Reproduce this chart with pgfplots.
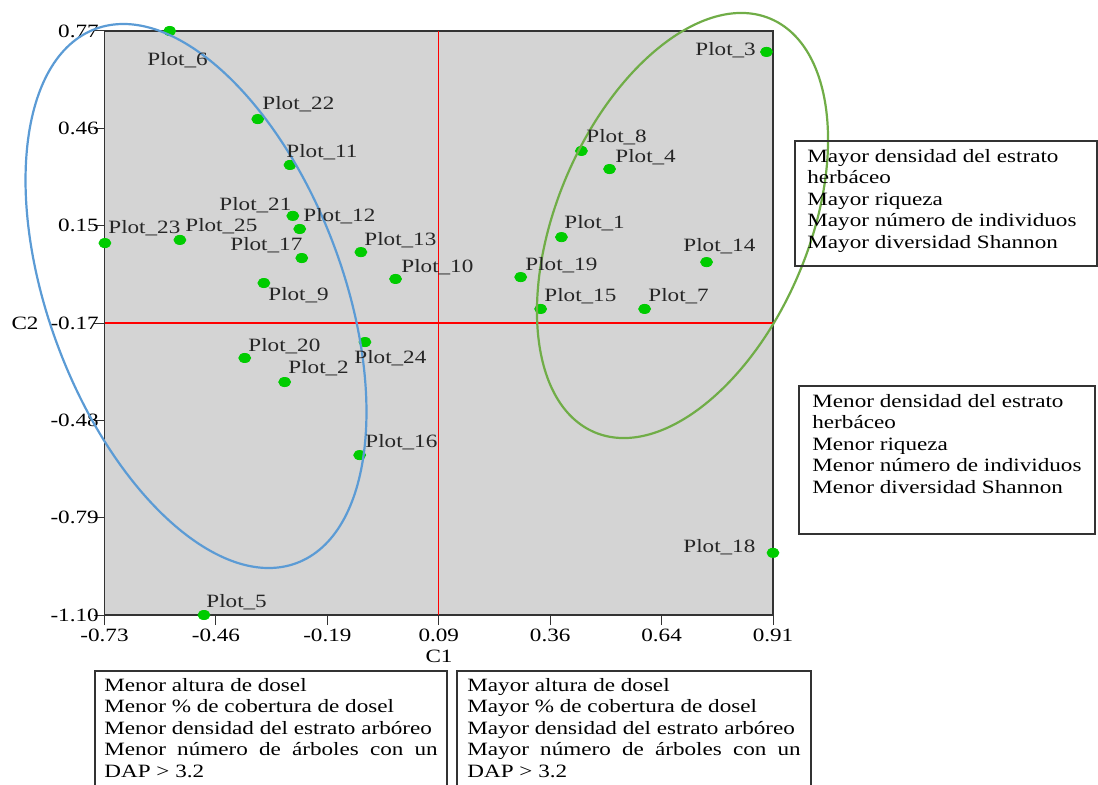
\documentclass[border=0pt]{standalone}
\usepackage{pgfplots}
\pgfplotsset{compat=1.18}
\usepackage{pgfplotstable}
\usepackage{fontspec}
\setmainfont{Liberation Serif}
\usepackage{graphicx}
\newcommand{\sx}[1]{\scalebox{1.23}[1]{#1}}
\definecolor{plotgray}{RGB}{212,212,212}
\definecolor{ptgreen}{RGB}{0,204,0}
\definecolor{ellblue}{RGB}{91,155,213}
\definecolor{ellgreen}{RGB}{112,173,71}

\pgfplotstableread{
x y
0.391 0.110
-0.288 -0.354
0.894 0.703
0.509 0.328
-0.486 -1.100
-0.570 0.770
0.595 -0.120
0.440 0.386
-0.339 -0.037
-0.016 -0.024
-0.275 0.341
-0.251 0.136
-0.101 0.062
0.747 0.030
0.340 -0.120
-0.104 -0.588
-0.246 0.043
0.910 -0.901
0.291 -0.018
-0.386 -0.277
-0.268 0.178
-0.354 0.488
-0.729 0.091
-0.091 -0.226
-0.545 0.101
}\pointdata

\begin{document}
\begin{tikzpicture}[font=\fontsize{9.4pt}{10.75pt}\selectfont]
\useasboundingbox (0,0) rectangle (549pt,392pt);
\begin{axis}[
  scale only axis, width=334.25pt, height=292pt,
  at={(52.25pt,84.5pt)}, anchor=south west,
  xmin=-0.73, xmax=0.91, ymin=-1.10, ymax=0.77,
  axis background/.style={fill=plotgray},
  axis line style={black!80, line width=0.6pt},
  xtick={-0.73,-0.456667,-0.183333,0.09,0.363333,0.636667,0.91},
  xticklabels={\sx{-0.73},\sx{-0.46},\sx{-0.19},\sx{0.09},\sx{0.36},\sx{0.64},\sx{0.91}},
  ytick={-1.10,-0.788333,-0.476667,-0.165,0.146667,0.458333,0.77},
  yticklabels={\sx{-1.10},\sx{-0.79},\sx{-0.48},\sx{-0.17},\sx{0.15},\sx{0.46},\sx{0.77}},
  minor tick num=4,
  tick align=outside,
  tick pos=left,
  major tick length=5pt, minor tick length=3pt,
  tick style={black!80, line width=0.5pt},
  xticklabel style={anchor=north, inner sep=0pt, yshift=-2pt},
  yticklabel style={anchor=east, inner sep=0pt, xshift=2.3pt},
  clip=false,
]
\addplot[red, line width=0.6pt] coordinates {(0.09,-1.10) (0.09,0.77)};
\addplot[red, line width=0.6pt] coordinates {(-0.73,-0.165) (0.91,-0.165)};
\addplot[only marks, mark=*, mark size=2.3pt,
  mark options={fill=ptgreen, draw=ptgreen, xscale=1.3}] table[x=x,y=y]{\pointdata};
\end{axis}
\begin{scope}[shift={(0pt,392pt)}, x=0.5pt, y=-0.5pt]
  % ellipses
  \draw[ellblue, line width=1.1pt, rotate around={20.7:(196,296)}] (196,296) ellipse [x radius=146.9, y radius=285.4];
  \draw[ellgreen, line width=1.1pt, rotate around={-23.1:(682.5,225.5)}] (682.5,225.5) ellipse [x radius=125.9, y radius=224.7];
  % point labels
  \begin{scope}[every node/.style={anchor=west, inner sep=0pt, text=black!85}]
  \node at (147,60) {\sx{Plot\_6}};
  \node at (262,104) {\sx{Plot\_22}};
  \node at (286,152) {\sx{Plot\_11}};
  \node at (219,205) {\sx{Plot\_21}};
  \node at (303,216) {\sx{Plot\_12}};
  \node at (185,226) {\sx{Plot\_25}};
  \node at (108,228) {\sx{Plot\_23}};
  \node at (230,245) {\sx{Plot\_17}};
  \node at (364,240) {\sx{Plot\_13}};
  \node at (401,267) {\sx{Plot\_10}};
  \node at (268,295) {\sx{Plot\_9}};
  \node at (248,346) {\sx{Plot\_20}};
  \node at (288,368) {\sx{Plot\_2}};
  \node at (354,358) {\sx{Plot\_24}};
  \node at (365,442) {\sx{Plot\_16}};
  \node at (206,602) {\sx{Plot\_5}};
  \node at (695,50) {\sx{Plot\_3}};
  \node at (586,137) {\sx{Plot\_8}};
  \node at (615,157) {\sx{Plot\_4}};
  \node at (564,223) {\sx{Plot\_1}};
  \node at (683,246) {\sx{Plot\_14}};
  \node at (525,265) {\sx{Plot\_19}};
  \node at (544,296) {\sx{Plot\_15}};
  \node at (648,296) {\sx{Plot\_7}};
  \node at (683,547) {\sx{Plot\_18}};
  \end{scope}
  % axis titles
  \node[inner sep=0pt] at (439,656) {\sx{C1}};
  \node[inner sep=0pt] at (25,323) {\sx{C2}};
  % boxes
  \draw[black!80, line width=0.6pt] (795,141) rectangle (1097,266);
  \node[anchor=north west, inner sep=0pt] at (807,147) {\sx{\begin{tabular}{@{}l@{}}Mayor densidad del estrato\\herbáceo\\Mayor riqueza\\Mayor número de individuos\\Mayor diversidad Shannon\end{tabular}}};
  \draw[black!80, line width=0.6pt] (799,386) rectangle (1095,534);
  \node[anchor=north west, inner sep=0pt] at (812,392) {\sx{\begin{tabular}{@{}l@{}}Menor densidad del estrato\\herbáceo\\Menor riqueza\\Menor número de individuos\\Menor diversidad Shannon\end{tabular}}};
  \draw[black!80, line width=0.6pt] (95,671) rectangle (447,800);
  \node[anchor=north west, inner sep=0pt] at (104,676) {\sx{\begin{tabular}{@{}l@{}}Menor altura de dosel\\Menor \% de cobertura de dosel\\Menor densidad del estrato arbóreo\\\makebox[135.5pt][s]{Menor número de árboles con un}\\DAP > 3.2\end{tabular}}};
  \draw[black!80, line width=0.6pt] (457,671) rectangle (811,800);
  \node[anchor=north west, inner sep=0pt] at (467,676) {\sx{\begin{tabular}{@{}l@{}}Mayor altura de dosel\\Mayor \% de cobertura de dosel\\Mayor densidad del estrato arbóreo\\\makebox[135.5pt][s]{Mayor número de árboles con un}\\DAP > 3.2\end{tabular}}};
\end{scope}
\end{tikzpicture}
\end{document}
